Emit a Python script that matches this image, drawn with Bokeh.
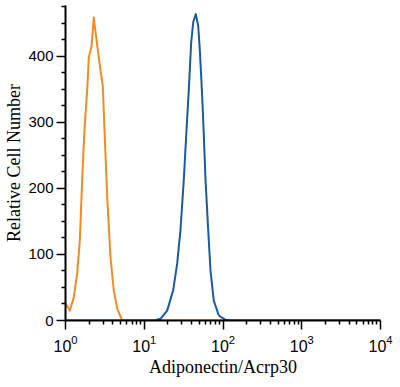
from bokeh.plotting import figure
from bokeh.models import FixedTicker, Range1d, LogTickFormatter
from bokeh.embed import file_html
from bokeh.resources import INLINE

# Orange histogram (control)
orange_x = [1.0, 1.135, 1.274, 1.409, 1.521, 1.629, 1.742, 1.888, 1.977, 2.138, 2.286,
            2.404, 2.600, 2.780, 2.979, 3.126, 3.388, 3.724, 4.102, 4.539, 5.248, 10000.0]
orange_y = [26, 15, 35, 72, 122, 213, 289, 350, 399, 414, 459,
            437, 406, 380, 354, 289, 187, 96, 46, 18, 0, 0]

# Blue histogram (Adiponectin/Acrp30)
blue_x = [1.0, 12.0, 13.9, 16.07, 19.54, 23.33, 26.18, 28.84, 31.77, 34.43, 36.81, 39.45,
          41.88, 45.19, 48.42, 50.70, 52.84, 55.72, 59.98, 64.86, 69.34, 76.38, 88.51,
          107.6, 124.5, 10000.0]
blue_y = [0, 0, 0.5, 2.6, 15, 46, 86, 137, 213, 289, 350, 421,
          452, 464, 446, 411, 370, 312, 213, 137, 76, 30, 7.6,
          1, 0, 0]

x_major = [1, 10, 100, 1000, 10000]
x_minor = [m * d for d in [1, 10, 100, 1000] for m in [2, 3, 4, 5, 6, 7, 8, 9]]
y_major = [0, 100, 200, 300, 400]
y_minor = [25, 50, 75, 125, 150, 175, 225, 250, 275, 325, 350, 375, 425, 450, 475]

p = figure(width=400, height=387, x_axis_type="log",
           x_range=Range1d(1, 10000), y_range=Range1d(0, 477),
           output_backend="svg", toolbar_location=None,
           min_border_left=65, min_border_right=20, min_border_top=5, min_border_bottom=67)

p.outline_line_color = None
p.xgrid.visible = False
p.ygrid.visible = False
p.background_fill_color = "white"
p.border_fill_color = "white"

p.line(orange_x, orange_y, line_color="#f48a23", line_width=2, line_join="round")
p.line(blue_x, blue_y, line_color="#1b5a9e", line_width=2, line_join="round")

xa = p.xaxis[0]
xa.ticker = FixedTicker(ticks=x_major, minor_ticks=x_minor)
xa.formatter = LogTickFormatter()
xa.axis_label = "Adiponectin/Acrp30"
ya = p.yaxis[0]
ya.ticker = FixedTicker(ticks=y_major, minor_ticks=y_minor)
ya.axis_label = "Relative Cell Number"

for ax in (xa, ya):
    ax.axis_line_color = "black"
    ax.axis_line_width = 2
    ax.major_tick_line_color = "black"
    ax.minor_tick_line_color = "black"
    ax.major_tick_line_width = 1.5
    ax.minor_tick_line_width = 1.5
    ax.major_tick_in = 0
    ax.minor_tick_in = 0
    ax.major_tick_out = 9
    ax.minor_tick_out = 4
    ax.major_label_text_font = "Liberation Sans"
    ax.major_label_text_font_size = "15px"
    ax.major_label_text_color = "black"
    ax.axis_label_text_font = "Liberation Serif"
    ax.axis_label_text_font_style = "normal"
    ax.axis_label_text_font_size = "18px"
    ax.axis_label_text_color = "black"

xa.major_label_text_font_size = "16px"
ya.major_label_standoff = 3
ya.axis_label_standoff = 1
xa.major_label_standoff = 5
xa.axis_label_standoff = 2

open("out.html", "w").write(file_html(p, INLINE))
